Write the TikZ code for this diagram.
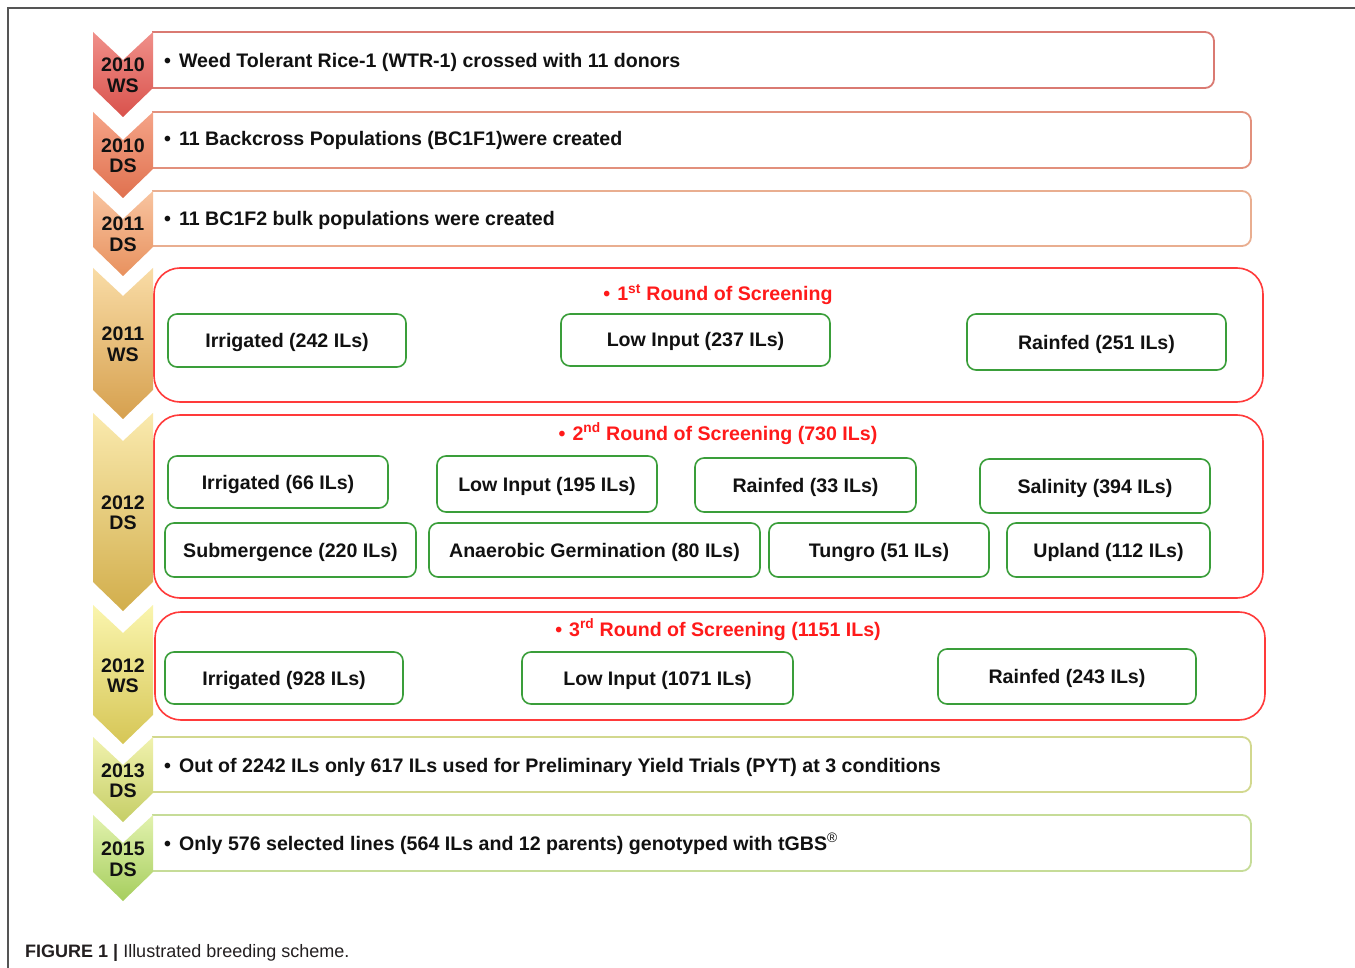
\documentclass[tikz,border=0pt]{standalone}
\usepackage{fontspec}
\setmainfont{Liberation Sans}
\usetikzlibrary{shadings}
\definecolor{txt}{HTML}{111111}
\definecolor{frame}{HTML}{555555}
\definecolor{bA}{HTML}{DA7A72}
\definecolor{bB}{HTML}{E2907C}
\definecolor{bC}{HTML}{E9AE90}
\definecolor{rd}{HTML}{FF3A3A}
\definecolor{bG}{HTML}{D2D88E}
\definecolor{bH}{HTML}{C6DC98}
\definecolor{gr}{HTML}{3A9E3A}
\definecolor{title}{HTML}{FF1A1A}
\definecolor{cap}{HTML}{231F20}
\definecolor{c1t}{HTML}{F0908A}\definecolor{c1b}{HTML}{D9524C}
\definecolor{c2t}{HTML}{F5A488}\definecolor{c2b}{HTML}{E0714F}
\definecolor{c3t}{HTML}{F8C4A0}\definecolor{c3b}{HTML}{E8915E}
\definecolor{c4t}{HTML}{F9DCA6}\definecolor{c4b}{HTML}{D6A04E}
\definecolor{c5t}{HTML}{FAEAAE}\definecolor{c5b}{HTML}{D2AE4C}
\definecolor{c6t}{HTML}{FAF5AE}\definecolor{c6b}{HTML}{D6C656}
\definecolor{c7t}{HTML}{F0F2AE}\definecolor{c7b}{HTML}{C6CE66}
\definecolor{c8t}{HTML}{E2F2AE}\definecolor{c8b}{HTML}{A6CE5E}
\tikzset{
  basefont/.style={font=\fontsize{19.6}{20.5}\selectfont\bfseries, text=txt, inner sep=0pt},
  lbl/.style={basefont, text height=15pt, text depth=1pt},
  yearlbl/.style={basefont, align=center},
  bullettext/.style={lbl, anchor=west},
  ttl/.style={font=\fontsize{19.6}{21}\selectfont\bfseries, text=title, inner sep=0pt, text height=15pt, text depth=1pt},
  thinbox/.style={line width=1.8pt, rounded corners=9pt},
  bigbox/.style={line width=1.6pt, draw=rd, rounded corners=26pt},
  grbox/.style={draw=gr, line width=1.6pt, rounded corners=9pt, lbl, align=center},
}
\newcommand{\mychev}[6]{%
  \shade[top color=#3, bottom color=#4]
    (93,#1) -- (123,#1+28) -- (153,#1) -- (153,#2) -- (123,#2+29) -- (93,#2) -- cycle;
  \node[yearlbl] (#6) at (123,{(#1+#2+28)/2+1.5}) {#5};%
}
\begin{document}
\begin{tikzpicture}[x=1pt,y=-1pt]
\useasboundingbox (0,0) rectangle (1355,968);
\fill[white] (0,0) rectangle (1355,968);
% frame
\draw[frame, line width=1.4pt] (8,968) -- (8,8) -- (1355,8);

% right-hand boxes (open on the chevron side)
\draw[thinbox, draw=bA] (152,32) -- (1214,32) -- (1214,88) -- (152,88);
\draw[thinbox, draw=bB] (152,112) -- (1251,112) -- (1251,168) -- (152,168);
\draw[thinbox, draw=bC] (152,191) -- (1251,191) -- (1251,246) -- (152,246);
\draw[bigbox] (154,268) rectangle (1263,402);
\draw[bigbox] (154,415) rectangle (1263,598);
\draw[bigbox] (155,612) rectangle (1265,720);
\draw[thinbox, draw=bG] (152,737) -- (1251,737) -- (1251,792) -- (152,792);
\draw[thinbox, draw=bH] (152,815) -- (1251,815) -- (1251,871) -- (152,871);

% chevrons
\mychev{32}{88}{c1t}{c1b}{2010\\WS}{y1}
\mychev{112}{169}{c2t}{c2b}{2010\\DS}{y2}
\mychev{191}{247}{c3t}{c3b}{2011\\DS}{y3}
\mychev{268}{390}{c4t}{c4b}{2011\\WS}{y4}
\mychev{413}{582}{c5t}{c5b}{2012\\DS}{y5}
\mychev{605}{715}{c6t}{c6b}{2012\\WS}{y6}
\mychev{737}{793}{c7t}{c7b}{2013\\DS}{y7}
\mychev{815}{872}{c8t}{c8b}{2015\\DS}{y8}

% bullet lines
\node[bullettext] (t1) at (164,61) {•\hspace{8pt}Weed Tolerant Rice-1 (WTR-1) crossed with 11 donors};
\node[bullettext] (t2) at (164,139) {•\hspace{8pt}11 Backcross Populations (BC1F1)were created};
\node[bullettext] (t3) at (164,219) {•\hspace{8pt}11 BC1F2 bulk populations were created};
\node[bullettext] (t7) at (164,765) {•\hspace{8pt}Out of 2242 ILs only 617 ILs used for Preliminary Yield Trials (PYT) at 3 conditions};
\node[bullettext] (t8) at (164,843) {•\hspace{8pt}Only 576 selected lines (564 ILs and 12 parents) genotyped with tGBS\textsuperscript{\normalfont ®}};

% round titles
\node[ttl] (s1) at (718,294) {•\hspace{7pt}1\textsuperscript{st} Round of Screening};
\node[ttl] (s2) at (718,433) {•\hspace{7pt}2\textsuperscript{nd} Round of Screening (730 ILs)};
\node[ttl] (s3) at (718,629) {•\hspace{7pt}3\textsuperscript{rd} Round of Screening (1151 ILs)};

% round 1
\node[grbox, minimum width=238pt, minimum height=53pt] (irr1) at (287,340.5) {Irrigated (242 ILs)};
\node[grbox, minimum width=269pt, minimum height=52pt] (low1) at (695.5,340) {Low Input (237 ILs)};
\node[grbox, minimum width=259pt, minimum height=56pt] (rain1) at (1096.5,342) {Rainfed (251 ILs)};

% round 2
\node[grbox, minimum width=220pt, minimum height=52pt] (irr2) at (278,482) {Irrigated (66 ILs)};
\node[grbox, minimum width=220pt, minimum height=56pt] (low2) at (547,484) {Low Input (195 ILs)};
\node[grbox, minimum width=221pt, minimum height=54pt] (rain2) at (805.5,485) {Rainfed (33 ILs)};
\node[grbox, minimum width=230pt, minimum height=54pt] (sal2) at (1095,486) {Salinity (394 ILs)};
\node[grbox, minimum width=251pt, minimum height=54pt] (sub2) at (290.5,550) {Submergence (220 ILs)};
\node[grbox, minimum width=331pt, minimum height=54pt] (ana2) at (594.5,550) {Anaerobic Germination (80 ILs)};
\node[grbox, minimum width=220pt, minimum height=54pt] (tun2) at (879,550) {Tungro (51 ILs)};
\node[grbox, minimum width=203pt, minimum height=54pt] (upl2) at (1108.5,550) {Upland (112 ILs)};

% round 3
\node[grbox, minimum width=238pt, minimum height=52pt] (irr3) at (284,678) {Irrigated (928 ILs)};
\node[grbox, minimum width=271pt, minimum height=52pt] (low3) at (657.5,678) {Low Input (1071 ILs)};
\node[grbox, minimum width=258pt, minimum height=55pt] (rain3) at (1067,676.5) {Rainfed (243 ILs)};

% caption
\node[anchor=west, inner sep=0pt, text=cap, font=\fontsize{18}{20}\selectfont] (cap) at (25,953)
  {\textbf{FIGURE 1} \textbf{|} Illustrated breeding scheme.};
\end{tikzpicture}
\end{document}
